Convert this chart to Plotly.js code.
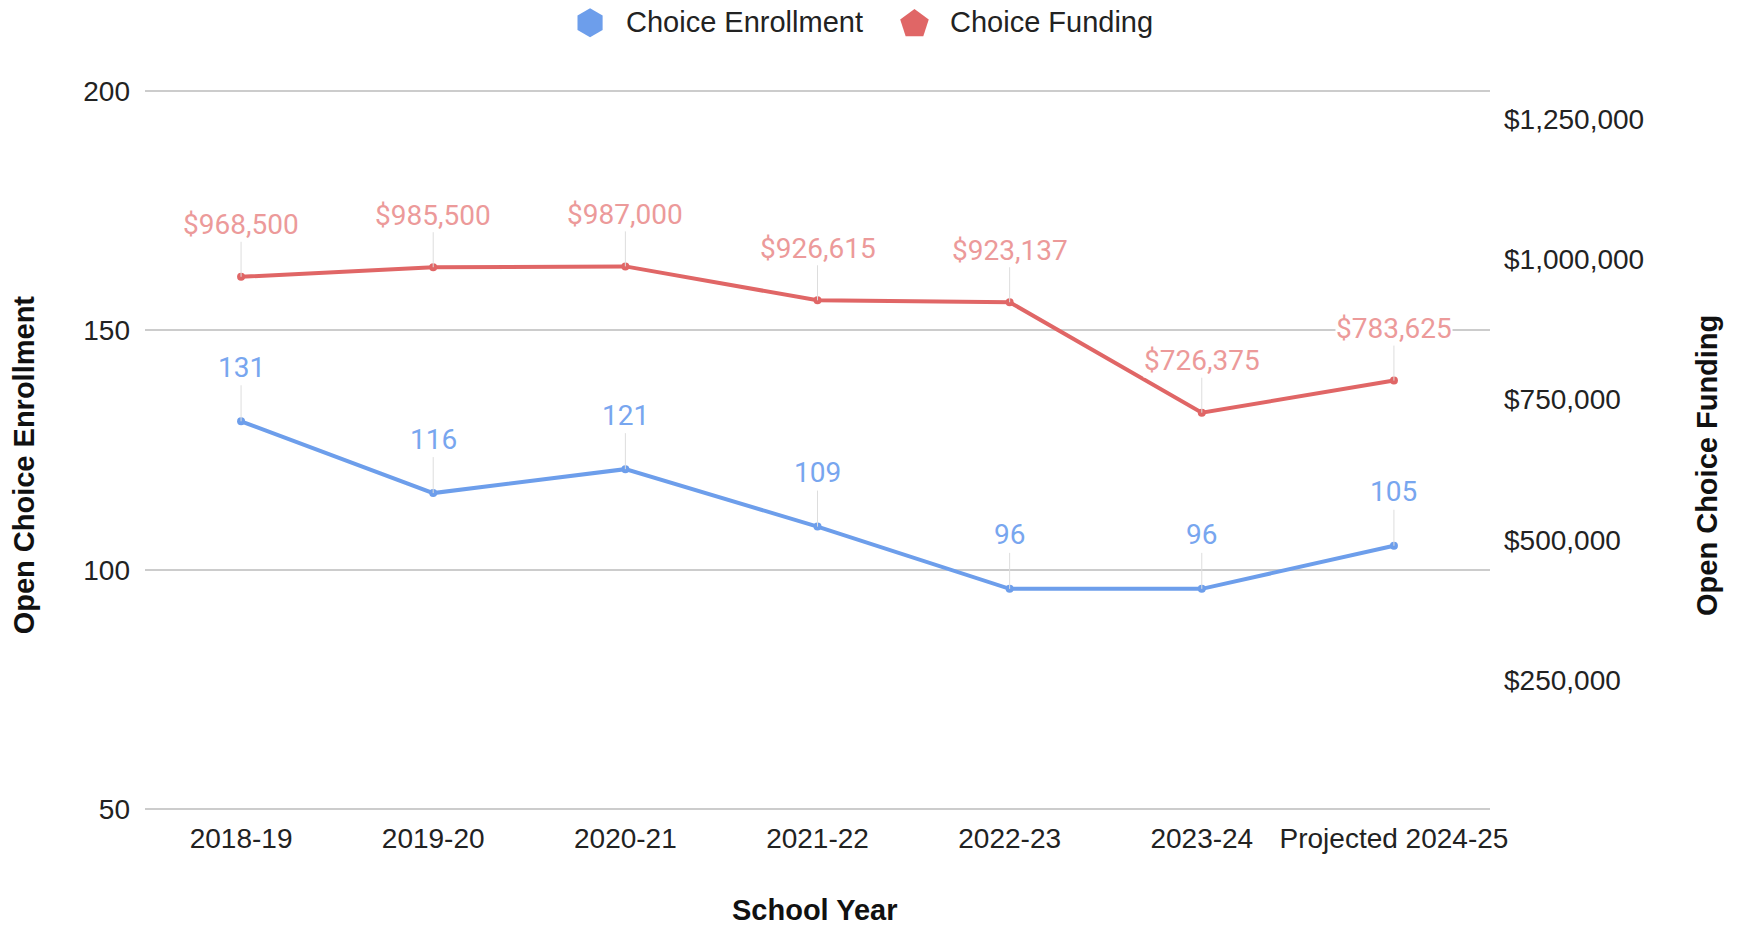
<!DOCTYPE html>
<html>
<head>
<meta charset="utf-8">
<script src="https://cdn.plot.ly/plotly-3.0.1.min.js"></script>
<style>html,body{margin:0;padding:0;background:#fff;}#chart{width:1737px;height:928px;}</style>
</head>
<body>
<div id="chart"></div>
<script>
const schoolYears = ["2018-19","2019-20","2020-21","2021-22","2022-23","2023-24","Projected 2024-25"];
const enrollment = [131,116,121,109,96,96,105];
const funding = [968500,985500,987000,926615,923137,726375,783625];
const leftTicks = [50,100,150,200];
const rightTicks = [250000,500000,750000,1000000,1250000];
const rightTickText = ["$250,000","$500,000","$750,000","$1,000,000","$1,250,000"];
const seriesNames = ["Choice Enrollment","Choice Funding"];

const blue = "#6d9eeb", red = "#e06666";
const blueLbl = "#78a6ef", redLbl = "#ec9a9a";

const traces = [
  {x: schoolYears, y: enrollment, type: "scatter", mode: "lines+markers", yaxis: "y", name: seriesNames[0],
   line: {color: blue, width: 4}, marker: {color: blue, size: 8}, showlegend: false, hoverinfo: "skip"},
  {x: schoolYears, y: funding, type: "scatter", mode: "lines+markers", yaxis: "y2", name: seriesNames[1],
   line: {color: red, width: 4}, marker: {color: red, size: 8}, showlegend: false, hoverinfo: "skip"}
];

const fmtMoney = v => "$" + v.toLocaleString("en-US");
const annotations = [];
schoolYears.forEach((c, i) => {
  annotations.push({x: c, y: enrollment[i], xref: "x", yref: "y", text: String(enrollment[i]),
    showarrow: true, arrowhead: 0, arrowwidth: 1, arrowcolor: "#dddddd", ax: 0, ay: -54, standoff: 0,
    font: {family: "Roboto, sans-serif", size: 28, color: blueLbl}});
  annotations.push({x: c, y: funding[i], xref: "x", yref: "y2", text: fmtMoney(funding[i]),
    showarrow: true, arrowhead: 0, arrowwidth: 1, arrowcolor: "#dddddd", ax: 0, ay: -52, standoff: 0,
    font: {family: "Roboto, sans-serif", size: 28, color: redLbl}, bgcolor: "#ffffff", borderpad: 0});
});

// legend (custom, to match large symbols)
const legFont = {family: "Liberation Sans, Arial, sans-serif", size: 29, color: "#222"};
annotations.push({xref: "paper", yref: "paper", x: 0.3561, y: 1.0928, xanchor: "left", yanchor: "middle",
  text: seriesNames[0], showarrow: false, font: legFont});
annotations.push({xref: "paper", yref: "paper", x: 0.5970, y: 1.0928, xanchor: "left", yanchor: "middle",
  text: seriesNames[1], showarrow: false, font: legFont});

// axis titles
const titleFont = {family: "Liberation Sans, Arial, sans-serif", size: 29, color: "#111"};
annotations.push({xref: "paper", yref: "paper", x: 0.4982, y: -0.137, xanchor: "center", yanchor: "middle",
  text: "<b>School Year</b>", showarrow: false, font: titleFont});
annotations.push({xref: "paper", yref: "paper", x: -0.0897, y: 0.4792, xanchor: "center", yanchor: "middle",
  text: "<b>Open Choice Enrollment</b>", textangle: -90, showarrow: false, font: titleFont});
annotations.push({xref: "paper", yref: "paper", x: 1.1613, y: 0.4792, xanchor: "center", yanchor: "middle",
  text: "<b>Open Choice Funding</b>", textangle: -90, showarrow: false, font: titleFont});

function polyPath(n, rx, ry, rot) {
  let p = "";
  for (let k = 0; k < n; k++) {
    const a = rot + k * 2 * Math.PI / n;
    p += (k === 0 ? "M" : "L") + (rx * Math.cos(a)).toFixed(2) + "," + (ry * Math.sin(a)).toFixed(2);
  }
  return p + "Z";
}
const shapes = [
  {type: "path", xref: "paper", yref: "paper", xsizemode: "pixel", ysizemode: "pixel",
   xanchor: 0.3309, yanchor: 1.0918, path: polyPath(6, 14.5, 14.5, Math.PI / 2),
   fillcolor: blue, line: {width: 0}},
  {type: "path", xref: "paper", yref: "paper", xsizemode: "pixel", ysizemode: "pixel",
   xanchor: 0.5721, yanchor: 1.0900, path: polyPath(5, 15, 15, Math.PI / 2),
   fillcolor: red, line: {width: 0}}
];

const layout = {
  width: 1737, height: 928,
  margin: {l: 145, r: 247, t: 89, b: 117},
  paper_bgcolor: "#fff", plot_bgcolor: "#fff",
  font: {family: "Liberation Sans, Arial, sans-serif", size: 28, color: "#222"},
  showlegend: false,
  xaxis: {type: "category", range: [-0.5, 6.5], showgrid: false, zeroline: false, showline: false,
    ticks: "", tickfont: {size: 28, color: "#222"}, ticklabelstandoff: 8},
  yaxis: {range: [49.6, 200.4], tickvals: leftTicks, ticktext: leftTicks.map(String), showgrid: true,
    gridcolor: "#cccccc", gridwidth: 2, zeroline: false, showline: false, ticks: "",
    tickfont: {size: 28, color: "#222"}, ticklabelstandoff: 14},
  yaxis2: {overlaying: "y", side: "right", range: [17100, 1302900], tickvals: rightTicks, ticktext: rightTickText,
    showgrid: false, zeroline: false, showline: false, ticks: "",
    tickfont: {size: 28, color: "#222"}, ticklabelstandoff: 13},
  annotations: annotations,
  shapes: shapes
};

Plotly.newPlot("chart", traces, layout, {staticPlot: true, displayModeBar: false});
</script>
</body>
</html>
